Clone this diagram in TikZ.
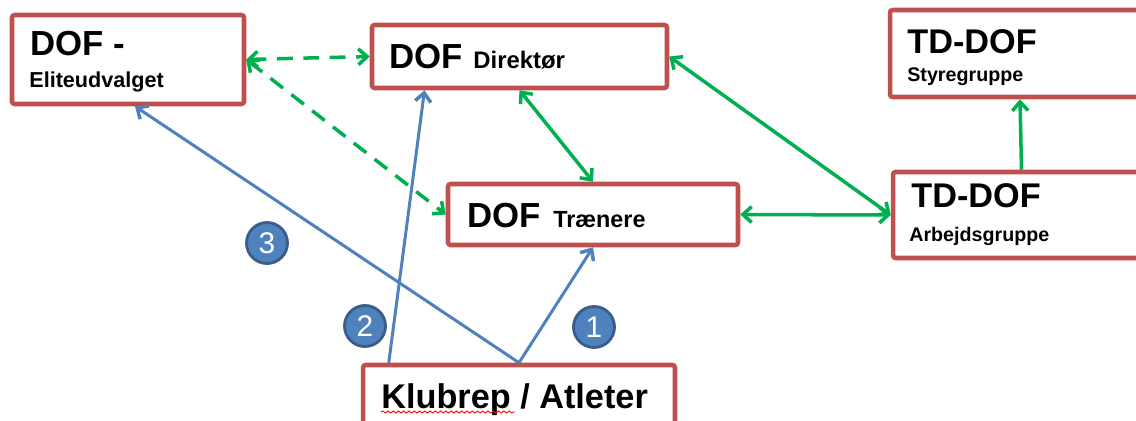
\documentclass[tikz,border=0pt]{standalone}
\usepackage{fontspec}
\setmainfont{Liberation Sans}
\usetikzlibrary{arrows.meta,calc,decorations.pathmorphing}
\definecolor{boxred}{HTML}{C0504D}
\definecolor{lgreen}{HTML}{00B050}
\definecolor{lblue}{HTML}{4F81BD}
\definecolor{dblue}{HTML}{385D8A}
\tikzset{
  box/.style={draw=boxred, line width=2.6pt, rounded corners=1.5pt, fill=white, inner sep=0pt},
  lbl/.style={anchor=base west, inner sep=0pt, font=\bfseries},
  gline/.style={draw=lgreen, line width=2pt},
  bline/.style={draw=lblue, line width=1.7pt},
  tip/.style={-{Straight Barb[length=5pt,width=9pt,line width=2pt]}},
  dtip/.style={{Straight Barb[length=5pt,width=9pt,line width=2pt]}-{Straight Barb[length=5pt,width=9pt,line width=2pt]}},
  num/.style={circle, fill=lblue, draw=dblue, line width=1.6pt, minimum size=0.82cm, inner sep=0pt, text=white, font=\fontsize{17}{19}\selectfont},
}
\begin{document}
\begin{tikzpicture}[x=0.02cm, y=-0.02cm]
\clip (0,0) rectangle (1136,420);
\fill[white] (0,0) rectangle (1136,420);

% boxes
\node[box, minimum width=4.64cm, minimum height=1.78cm] (elite) at (128,59.5) {};
\node[box, minimum width=5.9cm, minimum height=1.26cm] (dir) at (519.5,56.5) {};
\node[box, minimum width=5.2cm, minimum height=1.74cm] (styre) at (1020,53.5) {};
\node[box, minimum width=5.8cm, minimum height=1.22cm] (tr) at (593,214.5) {};
\node[box, minimum width=5.14cm, minimum height=1.72cm] (arb) at (1021.5,215) {};
\node[box, minimum width=6.24cm, minimum height=1.5cm] (klub) at (519,402.5) {};

% texts
\node[lbl, font=\bfseries\fontsize{19.8}{22}\selectfont] (t1) at (30,55) {DOF -};
\node[lbl, font=\bfseries\fontsize{12.3}{14}\selectfont] (t2) at (29,87) {Eliteudvalget};
\node[lbl, font=\bfseries\fontsize{19.8}{22}\selectfont] (t3) at (389,68) {DOF};
\node[lbl, font=\bfseries\fontsize{13.6}{15}\selectfont] (t4) at (473,68) {Direktør};
\node[lbl, font=\bfseries\fontsize{19.5}{22}\selectfont] (t5) at (907,53) {TD-DOF};
\node[lbl, font=\bfseries\fontsize{11.2}{13}\selectfont] (t6) at (907,81) {Styregruppe};
\node[lbl, font=\bfseries\fontsize{19.8}{22}\selectfont] (t7) at (467,227) {DOF};
\node[lbl, font=\bfseries\fontsize{13.3}{15}\selectfont] (t8) at (553,227) {Trænere};
\node[lbl, font=\bfseries\fontsize{19.5}{22}\selectfont] (t9) at (911,207) {TD-DOF};
\node[lbl, font=\bfseries\fontsize{11.2}{13}\selectfont] (t10) at (909,241) {Arbejdsgruppe};
\node[lbl, font=\bfseries\fontsize{19.5}{22}\selectfont] (t11) at (381,408) {Klubrep / Atleter};
\coordinate (sq1) at (381,412);
\coordinate (sq2) at (515,412);
\draw[red, line width=0.5pt, decorate, decoration={snake, amplitude=0.6pt, segment length=3pt}] (sq1) -- (sq2);

% green connectors
\draw[gline, dtip, dashed, dash pattern=on 9pt off 6pt] (elite.east) -- (dir.west);
\draw[gline, dtip, dashed, dash pattern=on 9pt off 6pt] (elite.east) -- (tr.west);
\draw[gline, dtip] (dir.south) -- (tr.north);
\draw[gline, dtip] (dir.east) -- (arb.west);
\draw[gline, dtip] (tr.east) -- (arb.west);
\draw[gline, tip] (arb.north) -- (styre.south);

% blue connectors
\draw[bline, tip] (klub.north) -- (tr.south);
\draw[bline, tip] (klub.north) -- ($(elite.south)+(7,0)$);
\draw[bline, tip] ($(klub.north west)+(28,0)$) -- ($(dir.south)+(-95,0)$);

% numbered circles
\node[num] (n3) at (267,243) {3};
\node[num] (n2) at (365,326) {2};
\node[num] (n1) at (594,327) {1};
\end{tikzpicture}
\end{document}
